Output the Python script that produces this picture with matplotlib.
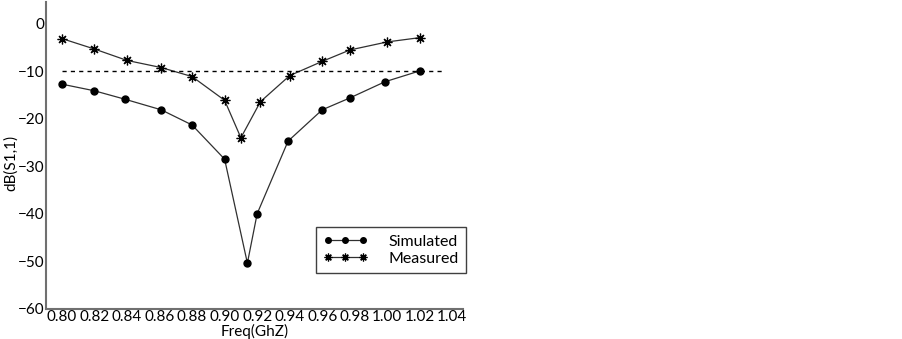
import matplotlib
matplotlib.use('Agg')
import matplotlib.pyplot as plt

plt.rcParams['font.family'] = ['Lato', 'DejaVu Sans']

# S11 readings (dB) off the plot
freq_sim = [0.80, 0.82, 0.839, 0.861, 0.880, 0.900, 0.914, 0.920,
            0.939, 0.960, 0.977, 0.9985, 1.02]
s11_sim = [-12.7, -14.1, -15.9, -18.1, -21.3, -28.5, -50.4, -40.0,
           -24.7, -18.1, -15.6, -12.2, -9.9]

freq_meas = [0.80, 0.82, 0.84, 0.861, 0.880, 0.900, 0.910, 0.922,
             0.940, 0.960, 0.977, 1.00, 1.02]
s11_meas = [-3.1, -5.3, -7.7, -9.2, -11.1, -16.1, -24.0, -16.4,
            -10.9, -7.9, -5.5, -3.8, -2.9]

ref_level = -10
ref_span = [0.80, 1.034]

xticks = [0.80, 0.82, 0.84, 0.86, 0.88, 0.90, 0.92, 0.94, 0.96, 0.98,
          1.00, 1.02, 1.04]
yticks = [0, -10, -20, -30, -40, -50, -60]

fig = plt.figure(figsize=(9.03, 3.39), dpi=100)
ax = fig.add_axes([0.0509, 0.0894, 0.4618, 0.9046])

ax.plot(freq_sim, s11_sim, color='#303030', lw=0.9, marker='o',
        markersize=5, markerfacecolor='black', markeredgecolor='black',
        label='Simulated')
ax.plot(freq_meas, s11_meas, color='#303030', lw=0.9, marker=(8, 2, 0),
        markersize=7, markeredgewidth=0.9, markeredgecolor='black',
        label='Measured')
ax.plot(ref_span, [ref_level, ref_level], color='black', lw=1.0,
        linestyle=(0, (3, 3)))

ax.set_xlim(0.7902, 1.0465)
ax.set_ylim(-60, 4.6)
ax.set_xticks(xticks)
ax.set_xticklabels(['%.2f' % t for t in xticks])
ax.set_yticks(yticks)
ax.tick_params(length=0, labelsize=11, pad=1)

for side in ['top', 'right']:
    ax.spines[side].set_visible(False)
for side in ['left', 'bottom']:
    ax.spines[side].set_color('#707070')
    ax.spines[side].set_linewidth(1.5)

ax.set_xlabel('Freq(GhZ)', fontsize=11, labelpad=0)
ax.set_ylabel('dB(S1,1)', fontsize=11)
ax.yaxis.set_label_coords(-0.068, 0.475)

leg = ax.legend(loc='lower right', bbox_to_anchor=(1.007, 0.116),
                borderaxespad=0, fontsize=11.5, numpoints=3,
                markerscale=0.8, handlelength=2.8, handletextpad=1.3,
                borderpad=0.45, labelspacing=0.2, fancybox=False,
                framealpha=1, edgecolor='#404040')
leg.get_frame().set_linewidth(1.0)

fig.savefig('out.png', dpi=100)
